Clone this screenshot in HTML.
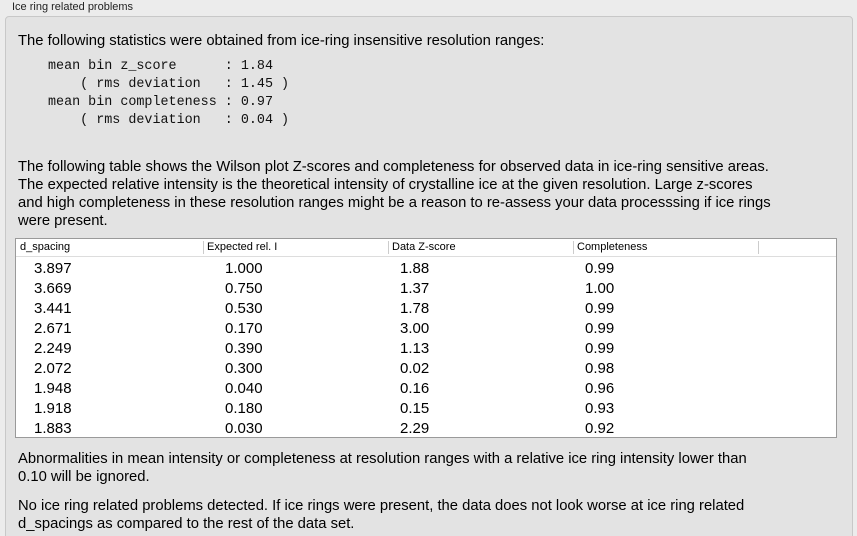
<!DOCTYPE html>
<html><head><style>
html,body{margin:0;width:857px;height:536px;overflow:hidden}
body{background:#ececec;font-family:"Liberation Sans",sans-serif;position:relative;color:#000}
.t{position:absolute;white-space:pre;font-size:14.8px;line-height:18px}
.title{position:absolute;left:12px;top:1px;font-size:11px;color:#222}
.box{position:absolute;left:5px;top:16px;width:846px;height:540px;background:#e3e3e3;border:1px solid #c8c8c8;border-radius:4px}
.mono{position:absolute;left:48px;top:58px;font-family:"Liberation Mono",monospace;font-size:13.4px;line-height:18px;white-space:pre;color:#111}
.tbl{position:absolute;left:15px;top:238px;width:820px;height:198px;background:#fff;border:1px solid #9a9a9a}
.hd{position:absolute;top:0;height:17px;width:820px;border-bottom:1px solid #ddd;background:#fff}
.h{position:absolute;top:2px;font-size:11px;border-left:1px solid #ccc;padding-left:3px;height:13px;line-height:13px}
.c{position:absolute;font-size:15px}
</style></head><body>
<div class="title">Ice ring related problems</div>
<div class="box"></div>
<div class="t" style="left:18px;top:32px">The following statistics were obtained from ice-ring insensitive resolution ranges:</div>
<div class="mono">mean bin z_score      : 1.84
    ( rms deviation   : 1.45 )
mean bin completeness : 0.97
    ( rms deviation   : 0.04 )</div>
<div class="t" style="left:18px;top:158px">The following table shows the Wilson plot Z-scores and completeness for observed data in ice-ring sensitive areas.
The expected relative intensity is the theoretical intensity of crystalline ice at the given resolution. Large z-scores
and high completeness in these resolution ranges might be a reason to re-assess your data processsing if ice rings
were present.</div>
<div class="tbl">
<div class="hd">
<div class="h" style="left:0;border-left:none;padding-left:4px">d_spacing</div>
<div class="h" style="left:187px">Expected rel. I</div>
<div class="h" style="left:372px">Data Z-score</div>
<div class="h" style="left:557px">Completeness</div>
<div class="h" style="left:742px"></div>
</div>
<div id="rows"></div>
</div>
<div class="t" style="left:18px;top:450px">Abnormalities in mean intensity or completeness at resolution ranges with a relative ice ring intensity lower than
0.10 will be ignored.</div>
<div class="t" style="left:18px;top:497px">No ice ring related problems detected. If ice rings were present, the data does not look worse at ice ring related
d_spacings as compared to the rest of the data set.</div>
<script>
var d=[["3.897","1.000","1.88","0.99"],["3.669","0.750","1.37","1.00"],["3.441","0.530","1.78","0.99"],["2.671","0.170","3.00","0.99"],["2.249","0.390","1.13","0.99"],["2.072","0.300","0.02","0.98"],["1.948","0.040","0.16","0.96"],["1.918","0.180","0.15","0.93"],["1.883","0.030","2.29","0.92"]];
var xs=[18,209,384,569],h="";
d.forEach(function(r,i){r.forEach(function(v,j){h+='<div class="c" style="left:'+xs[j]+'px;top:'+(21+i*20)+'px">'+v+'</div>';});});
document.getElementById("rows").innerHTML=h;
</script>
</body></html>
